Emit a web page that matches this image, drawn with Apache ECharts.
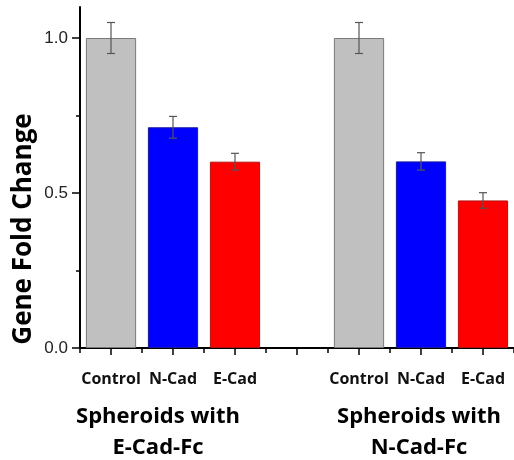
<!DOCTYPE html>
<html><head><meta charset="utf-8">
<script src="https://cdn.jsdelivr.net/npm/echarts@6/dist/echarts.min.js"></script>
<style>html,body{margin:0;padding:0;background:#fff}#c{width:514px;height:460px}</style>
</head><body><div id="c"></div>
<script>
const categories = ['Control', 'N-Cad', 'E-Cad', '', 'Control', 'N-Cad', 'E-Cad'];
const values = [1.0, 0.712, 0.601, null, 1.0, 0.602, 0.476];
const errors = [0.05, 0.035, 0.027, null, 0.05, 0.028, 0.025];
const barColors = ['#c0c0c0', '#0000ff', '#ff0000', null, '#c0c0c0', '#0000ff', '#ff0000'];
const barBorders = ['#7a7a7a', '#1a1a9a', '#b01010', null, '#7a7a7a', '#1a1a9a', '#b01010'];
const yTicks = [0, 0.5, 1.0];
const yMinorTicks = [0.25, 0.75];
const groupLabels = ['Spheroids with\nE-Cad-Fc', 'Spheroids with\nN-Cad-Fc'];
const yName = 'Gene Fold Change';

const chart = echarts.init(document.getElementById('c'));
const barData = values.map((v, i) => v == null ? null : {
  value: v,
  itemStyle: { color: barColors[i], borderColor: barBorders[i], borderWidth: 1 }
});
const errData = [];
values.forEach((v, i) => { if (v != null) errData.push([i, v, errors[i]]); });

chart.setOption({
  animation: false,
  grid: { left: 80, right: 0, top: 7, bottom: 112 },
  xAxis: [{
    type: 'category', data: categories, boundaryGap: true,
    axisLine: { show: true, lineStyle: { color: '#000', width: 2 } },
    axisTick: { show: true, alignWithLabel: true, length: 7, lineStyle: { color: '#000', width: 1.5 } },
    axisLabel: { margin: 23, fontFamily: 'Open Sans', fontWeight: 'bold', fontSize: 16, color: '#111', interval: 0 }
  }, {
    type: 'category', data: categories, boundaryGap: true, position: 'bottom',
    axisLine: { show: false },
    axisTick: { show: true, alignWithLabel: false, length: 5, lineStyle: { color: '#000', width: 1.5 } },
    axisLabel: { show: false }
  }],
  yAxis: [{
    type: 'value', min: 0, max: 1.1,
    axisLine: { show: true, lineStyle: { color: '#000', width: 2 } },
    axisTick: { show: true, customValues: yTicks, length: 8, lineStyle: { color: '#000', width: 1.5 } },
    axisLabel: { customValues: yTicks, formatter: v => v.toFixed(1), margin: 12, fontFamily: 'Liberation Sans', fontSize: 17, color: '#222' },
    splitLine: { show: false }
  }, {
    type: 'value', min: 0, max: 1.1, position: 'left',
    axisLine: { show: false },
    axisTick: { show: true, customValues: yMinorTicks, length: 4, lineStyle: { color: '#000', width: 1.5 } },
    axisLabel: { show: false },
    splitLine: { show: false }
  }],
  series: [{
    type: 'bar', data: barData, barWidth: '81%', xAxisIndex: 0, yAxisIndex: 0
  }, {
    type: 'custom', xAxisIndex: 0, yAxisIndex: 0, data: errData, z: 5,
    renderItem: (params, api) => {
      const x = api.value(0), v = api.value(1), e = api.value(2);
      const top = api.coord([x, v + e]);
      const bot = api.coord([x, v - e]);
      const w = 4;
      const st = { stroke: '#555', lineWidth: 1.2 };
      return { type: 'group', children: [
        { type: 'line', shape: { x1: top[0], y1: top[1], x2: bot[0], y2: bot[1] }, style: st },
        { type: 'line', shape: { x1: top[0] - w, y1: top[1], x2: top[0] + w, y2: top[1] }, style: st },
        { type: 'line', shape: { x1: bot[0] - w, y1: bot[1], x2: bot[0] + w, y2: bot[1] }, style: st }
      ]};
    }
  }],
  graphic: [
    { type: 'text', x: 24, y: 229, rotation: Math.PI / 2,
      style: { text: yName, fontFamily: 'Open Sans', fontWeight: 'bold', fontSize: 26, fill: '#000', align: 'center', verticalAlign: 'middle' } },
    { type: 'text', x: 158, y: 432,
      style: { text: groupLabels[0], fontFamily: 'Open Sans', fontWeight: 'bold', fontSize: 22, lineHeight: 31, fill: '#000', align: 'center', verticalAlign: 'middle' } },
    { type: 'text', x: 419, y: 432,
      style: { text: groupLabels[1], fontFamily: 'Open Sans', fontWeight: 'bold', fontSize: 22, lineHeight: 31, fill: '#000', align: 'center', verticalAlign: 'middle' } }
  ]
});
</script></body></html>
